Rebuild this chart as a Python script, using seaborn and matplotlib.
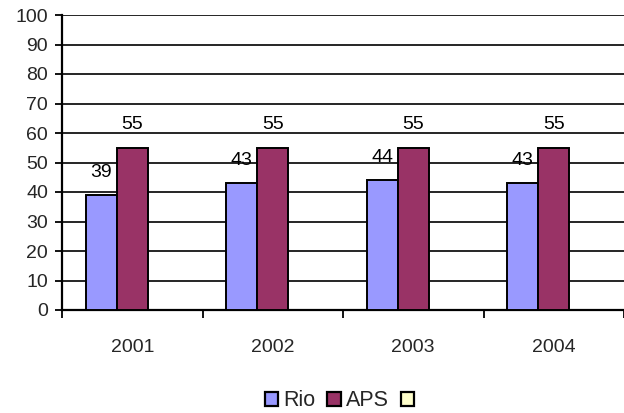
import matplotlib
matplotlib.use("Agg")
import matplotlib.pyplot as plt
import seaborn as sns
import pandas as pd
import numpy as np
from matplotlib.patches import Patch

years = ["2001", "2002", "2003", "2004"]
rio = [39, 43, 44, 43]
aps = [55, 55, 55, 55]
third = [np.nan, np.nan, np.nan, np.nan]
series_names = ["Rio", "APS", " "]
colors = ["#9999FF", "#993366", "#FFFFCC"]
y_ticks = [0, 10, 20, 30, 40, 50, 60, 70, 80, 90, 100]

df = pd.DataFrame({
    "year": years * 3,
    "series": [series_names[0]] * 4 + [series_names[1]] * 4 + [series_names[2]] * 4,
    "value": rio + aps + third,
})

sns.set_style("white")
plt.rcParams["font.family"] = ["Liberation Sans", "DejaVu Sans"]

fig = plt.figure(figsize=(6.24, 4.13), dpi=100)
ax = fig.add_axes([62 / 624, 1 - 310 / 413, 1 - 62 / 624, (310 - 15) / 413])

sns.barplot(data=df, x="year", y="value", hue="series", hue_order=series_names,
            palette=colors, width=0.66, gap=0, dodge=True, errorbar=None,
            edgecolor="black", linewidth=1.4, ax=ax, legend=False, saturation=1,
            zorder=3)

ax.set_ylim(0, 100)
ax.set_xlim(-0.5, 3.5)
ax.set_yticks(y_ticks)
ax.set_yticklabels([str(t) for t in y_ticks], fontsize=14)
ax.yaxis.grid(True, color="black", linewidth=1.2, zorder=0)
ax.set_axisbelow(True)

# category boundary ticks (major) and labels at centers (minor)
ax.set_xticks([-0.5, 0.5, 1.5, 2.5, 3.5])
ax.set_xticklabels([])
ax.set_xticks([0, 1, 2, 3], minor=True)
ax.set_xticklabels(years, minor=True, fontsize=14)
ax.tick_params(axis="x", which="major", direction="out", length=6, width=1.3, color="black", bottom=True)
ax.tick_params(axis="x", which="minor", length=0, pad=21)
ax.tick_params(axis="y", direction="out", length=5, width=1.3, color="black", left=True, pad=5)
ax.set_xlabel("")
ax.set_ylabel("")

for s in ["top", "right"]:
    ax.spines[s].set_visible(False)
for s in ["left", "bottom"]:
    ax.spines[s].set_color("black")
    ax.spines[s].set_linewidth(1.6)

# data labels
for cont in ax.containers:
    for rect in cont:
        h = rect.get_height()
        if np.isnan(h) or h == 0:
            continue
        ax.annotate(f"{int(round(h))}", (rect.get_x() + rect.get_width() / 2, h),
                    xytext=(0, 16.5), textcoords="offset points", ha="center", va="center",
                    fontsize=14, color="black")

handles = [Patch(facecolor=c, edgecolor="black", linewidth=1.6) for c in colors]
fig.legend(handles, ["Rio", "APS", ""], loc="center", bbox_to_anchor=(342 / 624, 1 - 401 / 413),
           ncol=3, frameon=False, fontsize=15.5, handlelength=0.62, handleheight=0.62,
           handletextpad=0.25, columnspacing=0.55)

fig.savefig("out.png", dpi=100)
